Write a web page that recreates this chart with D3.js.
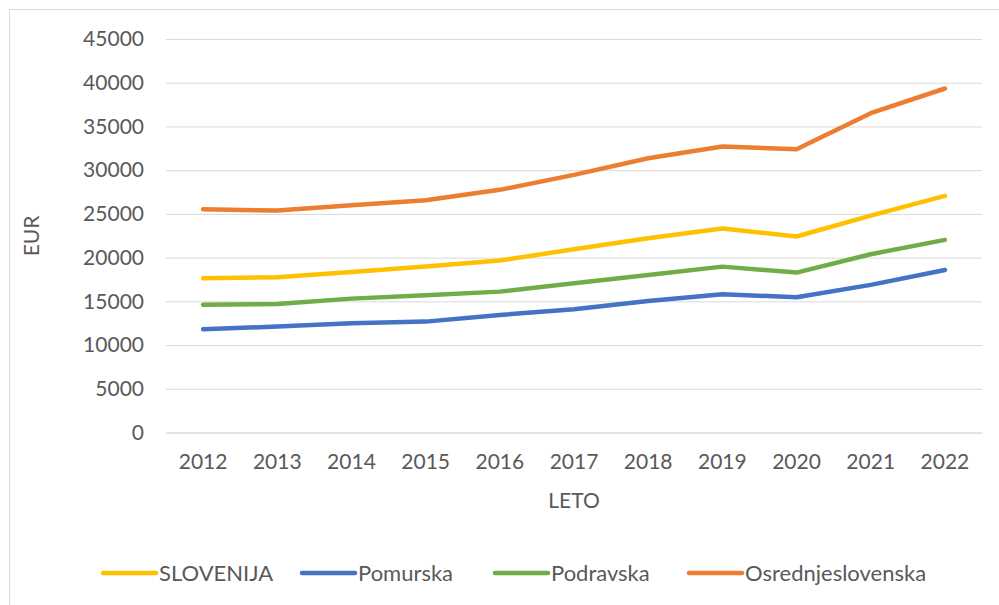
<!DOCTYPE html>
<html><head><meta charset="utf-8">
<script src="https://cdn.jsdelivr.net/npm/d3@7"></script>
<style>body{margin:0;background:#fff;} text{font-family:Lato, "Open Sans", sans-serif;}</style>
</head><body>
<svg id="c" width="999" height="605"></svg>
<script>
const years = ["2012","2013","2014","2015","2016","2017","2018","2019","2020","2021","2022"];
const slovenija = [17640,17760,18360,18970,19660,20960,22220,23320,22410,24810,27060];
const pomurska = [11810,12110,12490,12680,13440,14100,15050,15810,15470,16880,18590];
const podravska = [14620,14700,15310,15700,16110,17070,18020,18970,18290,20390,22030];
const osrednjeslovenska = [25540,25380,26000,26570,27750,29460,31370,32700,32400,36520,39340];
const yTicks = [0,5000,10000,15000,20000,25000,30000,35000,40000,45000];
const seriesNames = ["SLOVENIJA","Pomurska","Podravska","Osrednjeslovenska"];
const seriesColors = ["#FFC000","#4472C4","#70AD47","#ED7D31"];
const seriesData = [slovenija,pomurska,podravska,osrednjeslovenska];

const svg = d3.select("#c");
svg.append("rect").attr("x",9.5).attr("y",9.5).attr("width",1000).attr("height",600)
  .attr("fill","#fff").attr("stroke","#d9d9d9");

const x = d3.scaleBand().domain(years).range([166,982]);
const y = d3.scaleLinear().domain([0,45000]).range([432.5,39]);

const gy = svg.append("g").attr("transform","translate(166,0)")
  .call(d3.axisLeft(y).tickValues(yTicks).tickSize(-(982-166)).tickFormat(d=>d).tickPadding(22));
gy.select(".domain").remove();
gy.selectAll(".tick line").attr("stroke","#d9d9d9").attr("stroke-width",1);
gy.selectAll(".tick text").attr("fill","#595959").style("font-size","21px");

const gx = svg.append("g").attr("transform","translate(0,432.5)")
  .call(d3.axisBottom(x).tickSize(0).tickPadding(22));
gx.select(".domain").attr("stroke","#d9d9d9");
gx.selectAll(".tick text").attr("fill","#595959").style("font-size","21px");

svg.append("text").attr("transform","translate(39,236) rotate(-90)").attr("text-anchor","middle")
  .attr("fill","#595959").style("font-size","21px").text("EUR");
svg.append("text").attr("x",574).attr("y",508).attr("text-anchor","middle")
  .attr("fill","#595959").style("font-size","21px").text("LETO");

const line = d3.line().x((d,i)=>x(years[i])+x.bandwidth()/2).y(d=>y(d));
seriesData.forEach((s,k)=>{
  svg.append("path").datum(s).attr("d",line).attr("fill","none")
    .attr("stroke",seriesColors[k]).attr("stroke-width",4.5)
    .attr("stroke-linecap","round").attr("stroke-linejoin","round");
});

const legX = [103,302,495,689];
seriesNames.forEach((n,k)=>{
  const g = svg.append("g").attr("transform",`translate(${legX[k]},573)`);
  g.append("line").attr("x1",0).attr("x2",53).attr("y1",0).attr("y2",0)
    .attr("stroke",seriesColors[k]).attr("stroke-width",4.5).attr("stroke-linecap","round");
  g.append("text").attr("x",56).attr("y",8).attr("fill","#595959").style("font-size","22px").text(n);
});
</script>
</body></html>
